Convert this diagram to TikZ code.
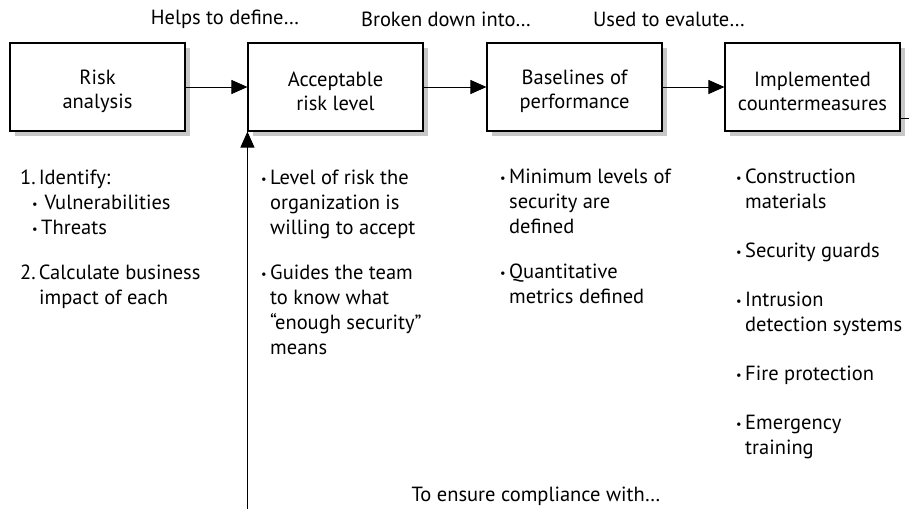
\documentclass[tikz,border=0pt]{standalone}
\usepackage{fontspec}
\setmainfont{PT Sans}
\usetikzlibrary{arrows.meta,shadows}
\newcommand{\bul}{\makebox[9pt][l]{\raisebox{1pt}{\scalebox{0.6}{•}}}}
\newcommand{\ind}{\hspace*{9pt}}
\begin{document}
\begin{tikzpicture}[x=1pt,y=-1pt,
  box/.style={draw, line width=1.1pt, fill=white, minimum width=175pt, minimum height=88pt,
    drop shadow={shadow xshift=5pt, shadow yshift=-5pt, fill=black!22, opacity=1}},
  boxtext/.style={align=center, font=\fontsize{20.5}{24}\selectfont, inner sep=0pt, yshift=-4pt},
  lbl/.style={font=\fontsize{20.5}{25}\selectfont, inner sep=0pt},
  txt/.style={font=\fontsize{20.5}{25}\selectfont, align=left, anchor=north west, inner sep=0pt},
  conn/.style={line width=1pt, -{Triangle[length=16pt,width=14pt]}}]
\useasboundingbox (0,0) rectangle (909,509);
\node[box] (b1) at (97.5,87) {};
\node[box] (b2) at (335.5,87) {};
\node[box] (b3) at (574.5,87) {};
\node[box] (b4) at (812.5,87) {};
\node[boxtext] (b1t) at (b1) {Risk\\analysis};
\node[boxtext] (b2t) at (b2) {Acceptable\\risk level};
\node[boxtext] (b3t) at (b3) {Baselines of\\performance};
\node[boxtext] (b4t) at (b4) {Implemented\\countermeasures};
\draw[conn] (b1) -- (b2);
\draw[conn] (b2) -- (b3);
\draw[conn] (b3) -- (b4);
\coordinate (stub) at (909,118);
\draw[line width=1pt] (b4.east |- stub) -- (stub);
\coordinate (bot) at (b2.south west |- 0,509);
\draw[conn] (bot) -- (b2.south west);
\node[lbl] (l1) at (225,19) {Helps to define…};
\node[lbl] (l2) at (446,19) {Broken down into…};
\node[lbl] (l3) at (669,19) {Used to evalute…};
\node[lbl] (l4) at (536,496) {To ensure compliance with…};
\node[txt] (t1) at (20,170) {1.\kern3pt Identify:\\
  \hspace*{12pt}\bul\,Vulnerabilities\\
  \hspace*{12pt}\bul Threats\\[20pt]
  2.\kern3pt Calculate business\\
  \hspace*{19pt}impact of each};
\node[txt] (t2) at (261,170) {\bul Level of risk the\\
  \ind organization is\\
  \ind willing to accept\\[20pt]
  \bul Guides the team\\
  \ind to know what\\
  \ind “enough security”\\
  \ind means};
\node[txt] (t3) at (500,169) {\bul Minimum levels of\\
  \ind security are\\
  \ind defined\\[20pt]
  \bul Quantitative\\
  \ind metrics defined};
\node[txt] (t4) at (736,169) {\bul Construction\\
  \ind materials\\[24pt]
  \bul Security guards\\[24pt]
  \bul Intrusion\\
  \ind detection systems\\[24pt]
  \bul Fire protection\\[24pt]
  \bul Emergency\\
  \ind training};
\end{tikzpicture}
\end{document}
